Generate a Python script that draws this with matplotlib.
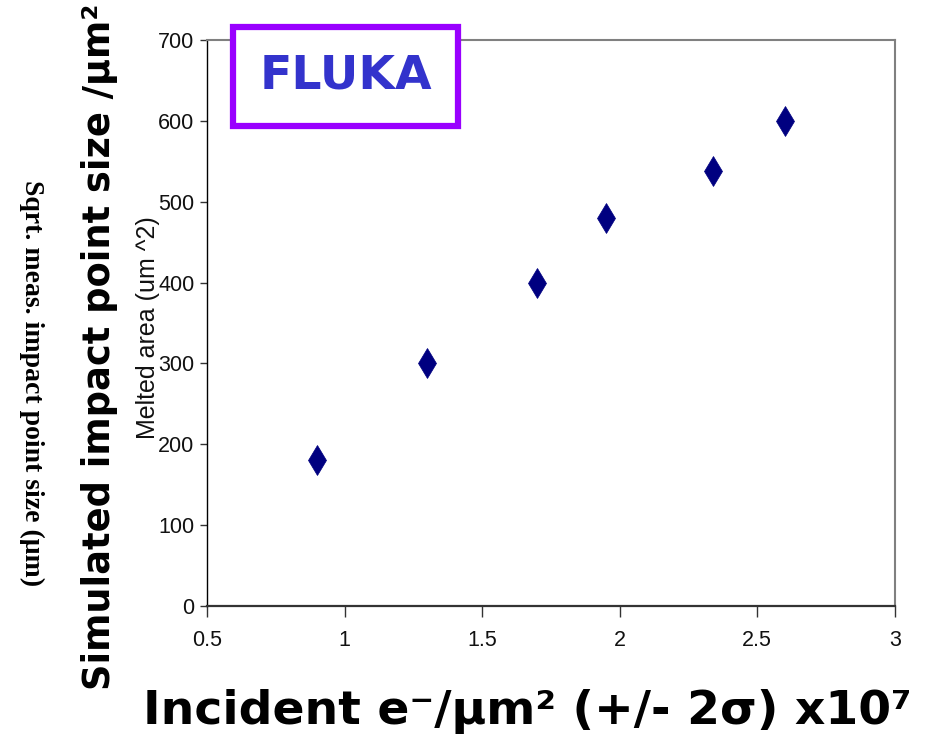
import matplotlib.pyplot as plt
from matplotlib.patches import Rectangle

# data
incident = [0.9, 1.3, 1.7, 1.95, 2.34, 2.6]
melted_area = [180, 300, 400, 480, 538, 600]
x_ticks = [0.5, 1, 1.5, 2, 2.5, 3]
x_tick_labels = ['0.5', '1', '1.5', '2', '2.5', '3']
y_ticks = [0, 100, 200, 300, 400, 500, 600, 700]

fig = plt.figure(figsize=(9.42, 7.4), dpi=100)
ax = fig.add_axes([0.2197, 0.181, 0.7303, 0.765])

ax.plot(incident, melted_area, linestyle='none', marker='d', markersize=15,
        color='#000080', markeredgewidth=0.5)

ax.set_xlim(0.5, 3)
ax.set_ylim(0, 700)
ax.set_xticks(x_ticks)
ax.set_xticklabels(x_tick_labels)
ax.set_yticks(y_ticks)

narrow = ['Liberation Sans Narrow', 'DejaVu Sans Condensed', 'Liberation Sans']
for lab in ax.get_xticklabels() + ax.get_yticklabels():
    lab.set_fontfamily(narrow)
    lab.set_fontsize(15.5)
    lab.set_color('#111111')
ax.tick_params(axis='x', direction='out', length=8, width=1, pad=9, color='#333333')
ax.tick_params(axis='y', direction='out', length=5, width=1, pad=4, color='#333333')

ax.spines['left'].set_color('black')
ax.spines['left'].set_linewidth(1)
ax.spines['bottom'].set_color('#333333')
ax.spines['bottom'].set_linewidth(1.6)
for side in ['top', 'right']:
    ax.spines[side].set_color('#808080')
    ax.spines[side].set_linewidth(1.5)

# original small y label
fig.text(148 / 942, 1 - 328 / 740, 'Melted area (um ^2)', rotation=90,
         ha='center', va='center', fontsize=18, family=narrow, color='#111111')

# ghost label of the older slide, rotated the other way
fig.text(32 / 942, 1 - 383 / 740, 'Sqrt. meas. impact point size (\u03bcm)',
         rotation=-90, ha='center', va='center', fontsize=20,
         family='Liberation Serif', fontweight='bold', color='black')

# big overlay labels
fig.text(100 / 942, 1 - 347 / 740, 'Simulated impact point size /\u03bcm\u00b2',
         rotation=90, ha='center', va='center', fontsize=26.5,
         fontweight='bold', family='DejaVu Sans', color='black')
fig.text(527 / 942, 1 - 712 / 740,
         'Incident e\u207b/\u03bcm\u00b2 (+/- 2\u03c3) x10\u2077',
         ha='center', va='center', fontsize=34, fontweight='bold',
         family='DejaVu Sans', color='black')

# FLUKA box
box = Rectangle((233 / 942, 1 - 126 / 740), 225 / 942, 99 / 740,
                transform=fig.transFigure, facecolor='white',
                edgecolor='#9900FF', linewidth=4.5, zorder=5)
fig.add_artist(box)
fig.text(345.5 / 942, 1 - 76 / 740, 'FLUKA', ha='center', va='center',
         fontsize=34, fontweight='bold', color='#3333CC', zorder=6)

fig.savefig('out.png', dpi=100)
